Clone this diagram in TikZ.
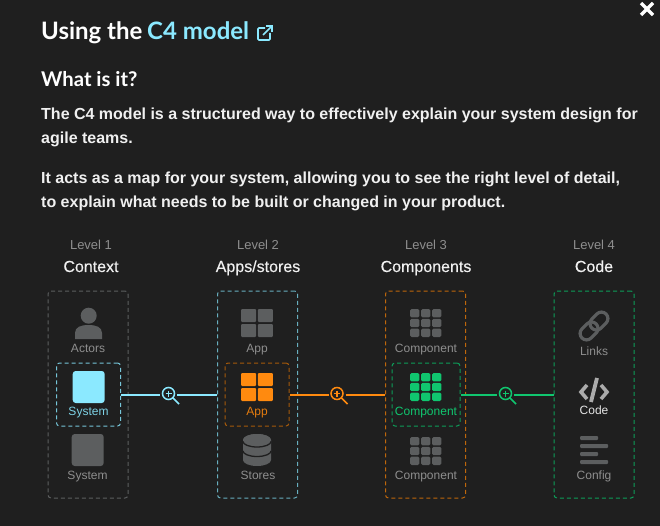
\documentclass[tikz,border=0pt]{standalone}
\usepackage{fontspec}
\setmainfont{Liberation Sans}
\newfontfamily\headfont{Lato}
\newfontfamily\medfont[FakeBold=0.25]{Liberation Sans}
\definecolor{pagebg}{HTML}{1F1F1F}
\definecolor{iconfill}{HTML}{5C5E5F}
\definecolor{lvlgrey}{HTML}{8E8E8E}
\definecolor{codegrey}{HTML}{ABABAB}
\definecolor{sysblue}{HTML}{8BE9FF}
\definecolor{apporange}{HTML}{FF8A0F}
\definecolor{compgreen}{HTML}{10C66F}
\tikzset{
	head/.style={anchor=base west, text=white, inner sep=0, font=\headfont\bfseries\fontsize{24}{28}\selectfont},
	para/.style={anchor=base west, text=white!94!black, inner sep=0, font=\bfseries\fontsize{16}{20}\selectfont},
	lvl/.style={anchor=base, text=lvlgrey, inner sep=0, font=\fontsize{13}{16}\selectfont},
	lvlname/.style={anchor=base, text=white!94!black, inner sep=0, font=\medfont\fontsize{16}{18}\selectfont},
	lbl/.style={anchor=base, text=lvlgrey, inner sep=0, font=\fontsize{12}{14}\selectfont},
	dashbox/.style={draw, inner sep=0, line width=1pt, rounded corners=3pt, dash pattern=on 4pt off 3pt},
	lens/.style={circle, draw, inner sep=0, minimum size=12pt, outer sep=2.5pt, line width=1.5pt},
	link/.style={line width=2pt}
}
\begin{document}
\begin{tikzpicture}[x=1pt,y=-1pt]
\useasboundingbox (0,0) rectangle (660,526);
\fill[pagebg] (0,0) rectangle (660,526);

\node[head] (using) at(41,40) {Using the};
\node[head, text=sysblue] (model) at(147,40) {C4 model};
\node[head, font=\headfont\bfseries\fontsize{20.3}{24}\selectfont] (what) at(41,87) {What is it?};
\foreach \n/\y/\t in {
	a/120/The C4 model is a structured way to effectively explain your system design for,
	b/144/agile teams.,
	c/184/It acts as a map for your system{,} allowing you to see the right level of detail{,},
	d/208/to explain what needs to be built or changed in your product.%
}{
	\node[para] (line\n) at(41,\y) {\t};
}

% external link mark and close cross
\draw[sysblue, line width=1.6pt, rounded corners=1pt] (265,28) -- (258,28) -- (258,40) -- (270,40) -- (270,33);
\draw[sysblue, line width=1.6pt] (263,35) -- (272,26) (266,26) -- (272,26) -- (272,32);
\draw[white, line width=3.4pt] (641,3) -- (653,15) (653,3) -- (641,15);

\foreach \n/\x/\a/\b in {
	a/91/Level 1/Context,
	b/258/Level 2/Apps\slash stores,
	c/426/Level 3/Components,
	d/594/Level 4/Code%
}{
	\node[lvl] (lvl\n) at(\x,250) {\a};
	\node[lvlname] (name\n) at(\x,272) {\b};
}

\foreach \n/\x/\c in {
	ctxbox/88/iconfill,
	appsbox/257.5/sysblue!75!black,
	compsbox/425.5/apporange!75!black,
	codebox/594/compgreen!80!black%
}{
	\node[dashbox, draw=\c, minimum width=80pt, minimum height=207pt] (\n) at(\x,394.5) {};
}
\node[dashbox, draw=sysblue!85!black, minimum width=64pt, minimum height=63pt] (sysbox) at(88.5,394.5) {};
\node[dashbox, draw=apporange!65!black, minimum width=64pt, minimum height=63pt] (appbox) at(257,394.5) {};
\node[dashbox, draw=compgreen!80!black, minimum width=68pt, minimum height=63pt] (compbox) at(426,394.5) {};

% connectors
\foreach \n/\x/\c/\u/\v in {
	zooma/168.5/sysblue/sysbox/appsbox,
	zoomb/337/apporange/appbox/compsbox,
	zoomc/505.5/compgreen/compbox/codebox%
}{
	\node[lens, draw=\c] (\n) at(\x,393.5) {};
	\draw[link, \c] (\u.east) -- (\n.west |- \u.east);
	\draw[link, \c] (\n.east |- \u.east) -- (\v.west);
	\draw[\c, line width=1.6pt, shorten <=-2.5pt] (\n.south east) -- ++(4.5,4.5);
	\draw[\c, line width=1.2pt] (\x-3,393.5) -- (\x+3,393.5) (\x,390.5) -- (\x,396.5);
}

% level 1 icons
\fill[iconfill] (88.7,315.7) circle (8);
\fill[iconfill] (75,339) -- (75,333) .. controls (75,327) and (81,325) .. (88.5,325) .. controls (96,325) and (102,327) .. (102,333) -- (102,339) -- cycle;
\fill[sysblue, rounded corners=3pt] (72.7,371) rectangle (104.7,403);
\fill[iconfill, rounded corners=3pt] (71.7,434) rectangle (103.7,466);

% level 2 icons
\foreach \y/\c in {309/iconfill,373/apporange}{
	\foreach \i in {0,1}{
		\foreach \j in {0,1}{
			\fill[\c, rounded corners=1pt] (241+\i*16.8,\y+\j*15) rectangle ++(15,13);
		}
	}
}
\fill[iconfill] (243,440) -- (243,460) arc (180:0:14 and 6) -- (271,440) arc (0:180:14 and -6) -- cycle;
\fill[iconfill] (243,440) arc (180:0:14 and 6) arc (0:180:14 and -6) -- cycle;
\draw[pagebg, line width=1.3pt] (243,441.5) arc (180:0:14 and 5.5) (243,451) arc (180:0:14 and 5.5);

% level 3 icons
\foreach \y/\c in {309/iconfill,373/compgreen,437/iconfill}{
	\foreach \i in {0,1,2}{
		\foreach \j in {0,1,2}{
			\fill[\c, rounded corners=1.5pt] (410+\i*11,\y+\j*9.8) rectangle ++(9.4,8.4);
		}
	}
}

% level 4 icons
\begin{scope}[shift={(594,326)}, rotate=45]
\draw[iconfill, line width=3.2pt, rounded corners=6.5pt] (-17,-6.5) rectangle (3,6.5);
\draw[iconfill, line width=3.2pt, rounded corners=6.5pt] (-3,-6.5) rectangle (17,6.5);
\end{scope}
\draw[codegrey, line width=3.6pt] (587,385) -- (581,392) -- (587,399) (601,385) -- (607,392) -- (601,399);
\draw[codegrey, line width=3.8pt] (597,378) -- (591,402);
\foreach \y/\w in {438/18,446/28,454/18,462/28}{
	\fill[iconfill, rounded corners=1pt] (580,\y-2) rectangle ++(\w,4);
}

\foreach \n/\x/\y/\t in {
	actors/88/352.3/Actors,
	sysb/87.5/479.3/System,
	appa/257/352.3/App,
	stores/258/479.3/Stores,
	compa/426/352.3/Component,
	compc/426/479.3/Component,
	links/594/355/Links,
	config/594/479.3/Config%
}{
	\node[lbl] (\n) at(\x,\y) {\t};
}
\node[lbl, text=sysblue!90!black] (sysa) at(88.5,415.7) {System};
\node[lbl, text=apporange!90!black] (appb) at(257,415.7) {App};
\node[lbl, text=compgreen] (compb) at(426,415.7) {Component};
\node[lbl, text=white!90!black] (codetxt) at(594,414.5) {Code};
\end{tikzpicture}
\end{document}
